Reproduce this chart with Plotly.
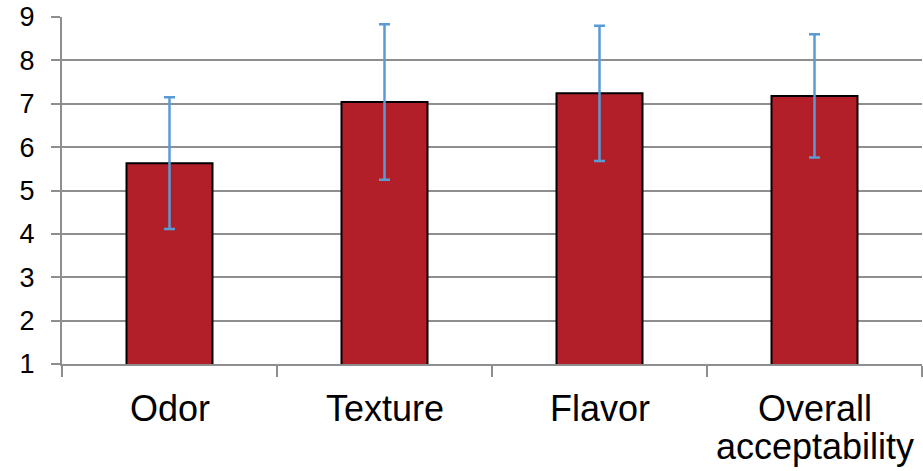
import plotly.graph_objects as go

categories = ["Odor", "Texture", "Flavor", "Overall acceptability"]
label_lines = [["Odor"], ["Texture"], ["Flavor"], ["Overall", "acceptability"]]
means = [5.63, 7.04, 7.24, 7.18]
errors = [1.52, 1.79, 1.56, 1.42]
y_ticks = [1, 2, 3, 4, 5, 6, 7, 8, 9]

GRID = "#8e8e8e"
FONT = "Liberation Sans, Arial, sans-serif"

fig = go.Figure()
fig.add_trace(go.Bar(
    x=categories, y=means,
    marker=dict(color="#B21F28", line=dict(color="#000000", width=2)),
    error_y=dict(type="data", array=errors, visible=True,
                 color="#5B9BD5", thickness=2.5, width=5.5),
    width=0.4,
))

annotations = []
for cat, lines in zip(categories, label_lines):
    for i, ln in enumerate(lines):
        annotations.append(dict(
            x=cat, xref="x", y=0, yref="paper", yshift=-44 - 38 * i,
            text=ln, showarrow=False, xanchor="center", yanchor="middle",
            font=dict(family=FONT, size=36, color="#000000"),
        ))

fig.update_layout(
    width=923, height=471,
    margin=dict(l=62, r=1, t=17, b=107),
    paper_bgcolor="white", plot_bgcolor="white",
    showlegend=False,
    annotations=annotations,
    xaxis=dict(
        type="category", showticklabels=False, automargin=False,
        showline=True, linecolor=GRID, linewidth=2,
        ticks="outside", tickson="boundaries", ticklen=11, tickcolor=GRID, tickwidth=2,
        showgrid=False, range=[-0.5, 3.5],
    ),
    yaxis=dict(
        range=[1, 9], tickvals=y_ticks, ticktext=[str(v) for v in y_ticks],
        automargin=False,
        showline=True, linecolor=GRID, linewidth=2,
        ticks="outside", ticklen=9, tickcolor=GRID, tickwidth=2,
        showgrid=True, gridcolor=GRID, gridwidth=2,
        zeroline=False,
        tickfont=dict(family=FONT, size=27, color="#000000"),
        ticklabelstandoff=11,
    ),
)

fig.write_html("out.html", config={"displayModeBar": False},
               post_script="document.body.style.margin='0';document.body.style.overflow='hidden';")
